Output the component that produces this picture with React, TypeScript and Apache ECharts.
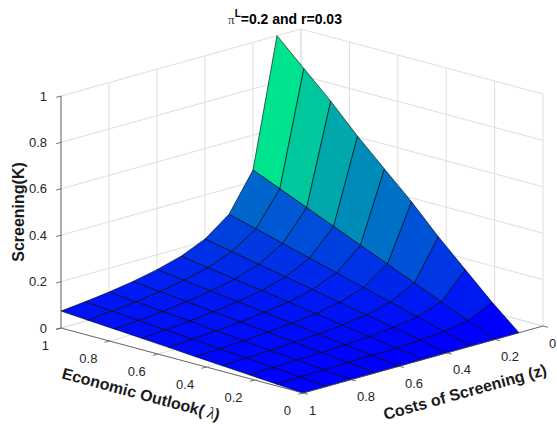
import React, { useEffect, useRef } from "react";
import * as echarts from "echarts";

// Economic Outlook (λ) grid points
const LAMBDA = [0, 0.111, 0.222, 0.333, 0.444, 0.556, 0.667, 0.778, 0.889, 1];
// Costs of Screening (z) grid points
const Z_COST = [0.1, 0.2, 0.3, 0.4, 0.5, 0.6, 0.7, 0.8, 0.9, 1.0];
// Screening (K): one row per z value, columns follow LAMBDA
const K_Z010 = [0, 0.1, 0.21, 0.32, 0.44, 0.55, 0.66, 0.78, 0.89, 1.0];
const K_Z020 = [0, 0.05, 0.1, 0.15, 0.2, 0.25, 0.3, 0.35, 0.4, 0.45];
const K_Z030 = [0, 0.032, 0.064, 0.096, 0.128, 0.16, 0.192, 0.224, 0.256, 0.288];
const K_Z040 = [0, 0.023, 0.047, 0.07, 0.093, 0.117, 0.14, 0.163, 0.187, 0.21];
const K_Z050 = [0, 0.018, 0.037, 0.055, 0.073, 0.092, 0.11, 0.128, 0.147, 0.165];
const K_Z060 = [0, 0.015, 0.03, 0.045, 0.06, 0.076, 0.091, 0.106, 0.121, 0.136];
const K_Z070 = [0, 0.013, 0.025, 0.038, 0.051, 0.063, 0.076, 0.089, 0.101, 0.114];
const K_Z080 = [0, 0.011, 0.022, 0.032, 0.043, 0.054, 0.065, 0.075, 0.086, 0.097];
const K_Z090 = [0, 0.009, 0.019, 0.028, 0.037, 0.047, 0.056, 0.065, 0.075, 0.084];
const K_Z100 = [0, 0.008, 0.016, 0.024, 0.032, 0.041, 0.049, 0.057, 0.065, 0.073];
const K_ROWS = [K_Z010, K_Z020, K_Z030, K_Z040, K_Z050, K_Z060, K_Z070, K_Z080, K_Z090, K_Z100];

const AXIS_TICKS = [0, 0.2, 0.4, 0.6, 0.8, 1];
const TICK_LABELS = ["0", "0.2", "0.4", "0.6", "0.8", "1"];

const TITLE_MAIN = "=0.2 and r=0.03";
const X_TITLE = "Economic Outlook(";
const Y_TITLE = "Costs of Screening (z)";
const K_TITLE = "Screening(K)";

// orthographic view (screen units of the hidden cartesian grid)
const VIEW = { ox: 543, oy: 326, lx: -242, ly: -65, zx: -240, zy: 67, kh: 232 };
const project = (l: number, z: number, k: number) => [
  VIEW.ox + VIEW.lx * l + VIEW.zx * z,
  VIEW.oy + VIEW.ly * l + VIEW.zy * z - VIEW.kh * k,
];

const FONT = '"Liberation Sans", Arial, Helvetica, sans-serif';
const TEX = '"Liberation Serif", "DejaVu Serif", serif';
const GRID_COLOR = "#dedede";
const AXIS_COLOR = "#4d4d4d";
const TEXT_COLOR = "#262626";

const K_MIN = Math.min(...K_ROWS.map((r) => Math.min(...r)));
const K_MAX = Math.max(...K_ROWS.map((r) => Math.max(...r)));

function winter(v: number) {
  const t = Math.max(0, Math.min(1, (v - K_MIN) / (K_MAX - K_MIN)));
  return `rgb(0,${Math.round(255 * t)},${Math.round(255 * (1 - t / 2))})`;
}

function buildCells() {
  const cells: number[][] = [];
  for (let j = 0; j < Z_COST.length - 1; j++) {
    for (let i = 0; i < LAMBDA.length - 1; i++) {
      const lc = (LAMBDA[i] + LAMBDA[i + 1]) / 2;
      const zc = (Z_COST[j] + Z_COST[j + 1]) / 2;
      const far = -(VIEW.ly * lc + VIEW.zy * zc);
      cells.push([i, j, far]);
    }
  }
  cells.sort((a, b) => b[2] - a[2]);
  return cells;
}

export default function App() {
  const ref = useRef<HTMLDivElement>(null);
  useEffect(() => {
    if (!ref.current) return;
    const chart = echarts.init(ref.current, undefined, { renderer: "svg" });

    const renderWalls = (_p: any, api: any) => {
      const children: any[] = [];
      const seg = (p: number[], q: number[]) => {
        const a = api.coord(project(p[0], p[1], p[2]));
        const b = api.coord(project(q[0], q[1], q[2]));
        children.push({
          type: "line",
          shape: { x1: a[0], y1: a[1], x2: b[0], y2: b[1] },
          style: { stroke: GRID_COLOR, lineWidth: 1 },
        });
      };
      AXIS_TICKS.forEach((t) => {
        seg([1, t, 0], [1, t, 1]);
        seg([t, 0, 0], [t, 0, 1]);
        seg([t, 0, 0], [t, 1, 0]);
        seg([0, t, 0], [1, t, 0]);
        seg([1, 0, t], [1, 1, t]);
        seg([0, 0, t], [1, 0, t]);
      });
      return { type: "group", children };
    };

    const renderSurface = (_p: any, api: any) => {
      const i = api.value(0);
      const j = api.value(1);
      const pts = [
        [i, j],
        [i + 1, j],
        [i + 1, j + 1],
        [i, j + 1],
      ].map(([a, b]) => api.coord(project(LAMBDA[a], Z_COST[b], K_ROWS[b][a])));
      return {
        type: "polygon",
        shape: { points: pts },
        style: { fill: winter(K_ROWS[j][i]), stroke: "#000", lineWidth: 0.6, lineJoin: "round" },
      };
    };

    const renderAxes = (_p: any, api: any) => {
      const children: any[] = [];
      const P = (l: number, z: number, k: number) => api.coord(project(l, z, k));
      const seg = (a: number[], b: number[]) =>
        children.push({
          type: "line",
          shape: { x1: a[0], y1: a[1], x2: b[0], y2: b[1] },
          style: { stroke: AXIS_COLOR, lineWidth: 0.8 },
        });
      const label = (x: number, y: number, text: string, align: string) =>
        children.push({
          type: "text",
          x,
          y,
          style: {
            text,
            fill: TEXT_COLOR,
            fontSize: 13,
            fontFamily: FONT,
            align,
            verticalAlign: "middle",
          },
        });
      // axis lines
      seg(P(1, 1, 0), P(1, 1, 1));
      seg(P(0, 1, 0), P(1, 1, 0));
      seg(P(0, 0, 0), P(0, 1, 0));
      // tick directions
      const zLen = Math.hypot(VIEW.zx, VIEW.zy);
      const zd = [(VIEW.zx / zLen) * 5, (VIEW.zy / zLen) * 5];
      const lLen = Math.hypot(VIEW.lx, VIEW.ly);
      const ld = [(-VIEW.lx / lLen) * 5, (-VIEW.ly / lLen) * 5];
      AXIS_TICKS.forEach((t, n) => {
        const kp = P(1, 1, t);
        seg(kp, [kp[0] + zd[0], kp[1] + zd[1]]);
        label(kp[0] - 14, kp[1], TICK_LABELS[n], "right");
        const lp = P(t, 1, 0);
        seg(lp, [lp[0] + zd[0], lp[1] + zd[1]]);
        label(lp[0] - 12, lp[1] + 17, TICK_LABELS[n], "right");
        const zp = P(0, t, 0);
        seg(zp, [zp[0] + ld[0], zp[1] + ld[1]]);
        label(zp[0] + 6, zp[1] + 17, TICK_LABELS[n], "left");
      });
      // axis titles
      const lm = P(0.5, 1, 0);
      children.push({
        type: "text",
        x: lm[0] - 41,
        y: lm[1] + 33.5,
        rotation: -Math.atan2(-VIEW.ly, -VIEW.lx),
        style: {
          text: `{b|${X_TITLE}}{l| λ}{b|)}`,
          align: "center",
          verticalAlign: "middle",
          rich: {
            b: { fontSize: 16, fontWeight: "bold", fontFamily: FONT, fill: "#1a1a1a" },
            l: { fontSize: 16, fontStyle: "italic", fontFamily: TEX, fill: "#1a1a1a" },
          },
        },
      });
      const zm = P(0, 0.5, 0);
      children.push({
        type: "text",
        x: zm[0] + 42,
        y: zm[1] + 32.5,
        rotation: Math.atan2(VIEW.zy, -VIEW.zx),
        style: {
          text: Y_TITLE,
          fontSize: 16,
          fontWeight: "bold",
          fontFamily: FONT,
          fill: "#1a1a1a",
          align: "center",
          verticalAlign: "middle",
        },
      });
      const km = P(1, 1, 0.5);
      children.push({
        type: "text",
        x: km[0] - 43,
        y: km[1],
        rotation: Math.PI / 2,
        style: {
          text: K_TITLE,
          fontSize: 16,
          fontWeight: "bold",
          fontFamily: FONT,
          fill: "#1a1a1a",
          align: "center",
          verticalAlign: "middle",
        },
      });
      // title
      const top = P(1, 0, 1);
      children.push({
        type: "text",
        x: top[0] - 16,
        y: top[1] - 10,
        style: {
          text: `{pi|π}{sup|L}{b|${TITLE_MAIN}}`,
          align: "center",
          verticalAlign: "middle",
          rich: {
            pi: { fontSize: 13, fontFamily: TEX, fill: "#333" },
            sup: { fontSize: 10, fontWeight: "bold", fontFamily: FONT, fill: "#000", verticalAlign: "top" },
            b: { fontSize: 14, fontWeight: "bold", fontFamily: FONT, fill: "#000", lineHeight: 22 },
          },
        },
      });
      return { type: "group", children };
    };

    chart.setOption({
      animation: false,
      backgroundColor: "#fff",
      grid: { left: 0, right: 0, top: 0, bottom: 0 },
      xAxis: { type: "value", min: 0, max: 557, show: false },
      yAxis: { type: "value", min: 0, max: 424, inverse: true, show: false },
      series: [
        { type: "custom", z: 1, silent: true, data: [[0, 0]], renderItem: renderWalls },
        { type: "custom", z: 2, silent: true, data: buildCells(), renderItem: renderSurface },
        { type: "custom", z: 3, silent: true, data: [[0, 0]], renderItem: renderAxes },
      ],
    });
    return () => chart.dispose();
  }, []);
  return (
    <div
      ref={ref}
      style={{ position: "fixed", left: 0, top: 0, width: 557, height: 424 }}
    />
  );
}
